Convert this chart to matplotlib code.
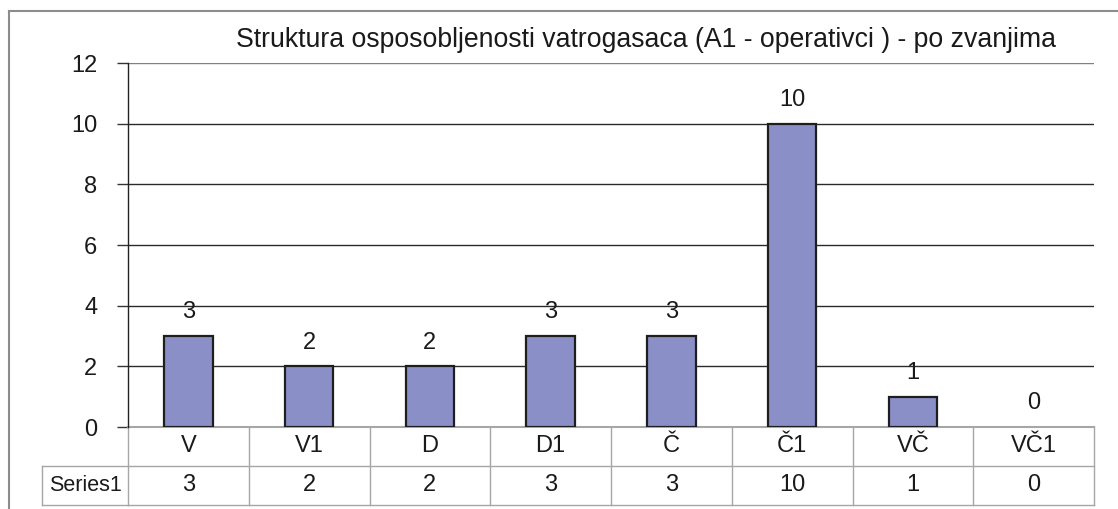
import matplotlib
matplotlib.use("Agg")
import matplotlib.pyplot as plt
from matplotlib.lines import Line2D
import matplotlib.transforms as mtransforms
from matplotlib import font_manager

categories = ["V", "V1", "D", "D1", "Č", "Č1", "VČ", "VČ1"]
values = [3, 2, 2, 3, 3, 10, 1, 0]
series_name = "Series1"
title = "Struktura osposobljenosti vatrogasaca (A1 - operativci ) - po zvanjima"
yticks = [0, 2, 4, 6, 8, 10, 12]

names = {f.name for f in font_manager.fontManager.ttflist}
fam = ["Liberation Sans Narrow"] if "Liberation Sans Narrow" in names else ["Liberation Sans"]
plt.rcParams["font.family"] = fam + ["DejaVu Sans"]

W, H = 1118, 509
fig = plt.figure(figsize=(W / 100, H / 100), dpi=100)

L, R, T, B = 128, 1094, 63, 427
ax = fig.add_axes([L / W, 1 - B / H, (R - L) / W, (B - T) / H])
x = list(range(len(categories)))
edge_cols = ["#1e1e1e" if v > 0 else "none" for v in values]
ax.bar(x, values, width=0.4, color="#8A8FC7", edgecolor=edge_cols, linewidth=1.6, zorder=3)
ax.set_xlim(-0.5, len(categories) - 0.5)
ax.set_ylim(0, 12)
ax.set_yticks(yticks)
ax.set_yticklabels([str(t) for t in yticks], fontsize=17, color="#1a1a1a")
ax.tick_params(axis="y", length=8, width=1, color="#333333", pad=14)
ax.set_xticks([])
for s in ["top", "right", "bottom"]:
    ax.spines[s].set_visible(False)
ax.spines["left"].set_color("#222222")
ax.spines["left"].set_linewidth(1)
for t in yticks[1:]:
    ax.axhline(t, color="#808080" if t == 12 else "#2a2a2a", linewidth=1, zorder=1)

for xi, v in zip(x, values):
    ax.annotate(str(v), (xi, v), xytext=(0, 17), textcoords="offset points",
                ha="center", va="center", fontsize=17, color="#1a1a1a")

# data table
row_h = 38.5 / (B - T)
tr = mtransforms.blended_transform_factory(ax.transData, ax.transAxes)
gray = "#a6a6a6"
y0, y1, y2 = 0, -row_h, -2 * row_h - 0.003
for i in range(len(categories) + 1):
    ax.add_line(Line2D([i - 0.5, i - 0.5], [y0, y2], transform=tr, color=gray,
                       lw=1, clip_on=False))
ax.add_line(Line2D([-0.5, len(categories) - 0.5], [y0, y0], transform=tr, color=gray, lw=1.5, clip_on=False))
ax.add_line(Line2D([-0.5, len(categories) - 0.5], [y1, y1], transform=tr, color=gray, lw=1, clip_on=False))
ax.add_line(Line2D([-0.5, len(categories) - 0.5], [y2, y2], transform=tr, color=gray, lw=1, clip_on=False))
for i, (c, v) in enumerate(zip(categories, values)):
    ax.text(i, (y0 + y1) / 2, c, transform=tr, ha="center", va="center", fontsize=17, color="#1a1a1a")
    ax.text(i, (y1 + y2) / 2, str(v), transform=tr, ha="center", va="center", fontsize=17, color="#1a1a1a")

# Series1 cell (figure pixel coords)
def fy(py):
    return 1 - py / H
yt, yb = 465.5, 505
for seg in [([42 / W, L / W], [fy(yt), fy(yt)]), ([42 / W, L / W], [fy(yb), fy(yb)]),
            ([42 / W, 42 / W], [fy(yt), fy(yb)])]:
    fig.add_artist(Line2D(seg[0], seg[1], color=gray, lw=1))
fig.text((42 + L) / 2 / W, fy((yt + yb) / 2), series_name, ha="center", va="center", fontsize=15.5, color="#1a1a1a")

# outer frame (left and top visible)
fig.add_artist(Line2D([8.5 / W, 8.5 / W], [fy(10.5), 0], color="#8c8c8c", lw=1.5))
fig.add_artist(Line2D([8.5 / W, 1], [fy(10.5), fy(10.5)], color="#8c8c8c", lw=1.5))

fig.text(646 / W, fy(40), title, ha="center", va="center", fontsize=19.2, color="#1a1a1a")

fig.savefig("out.png", dpi=100)
